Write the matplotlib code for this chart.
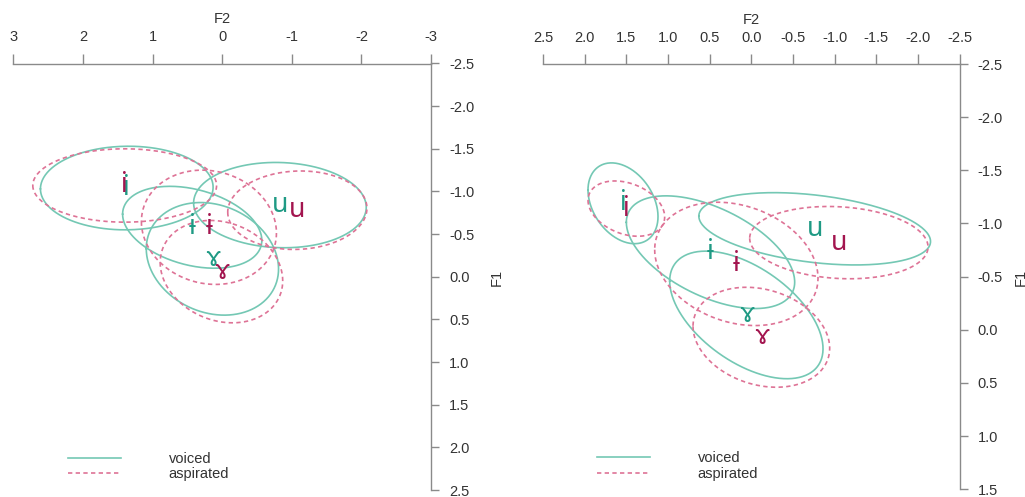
import numpy as np
import matplotlib
matplotlib.use("Agg")
import matplotlib.pyplot as plt
from matplotlib.lines import Line2D

plt.rcParams['axes.unicode_minus'] = False
plt.rcParams['font.family'] = ['Liberation Sans', 'DejaVu Sans']

# ---------------- data ----------------
vowels = ['i', 'ɨ', 'u', 'ɤ']
phonation = ['voiced', 'aspirated']

# Left panel: ellipse centres (F2, F1), half extents, correlation
left_voiced_f2 = [1.37, 0.43, -0.83, 0.14]
left_voiced_f1 = [-1.04, -0.58, -0.84, -0.21]
left_voiced_rx = [1.24, 1.00, 1.24, 0.95]
left_voiced_ry = [0.49, 0.48, 0.50, 0.66]
left_voiced_r = [0.02, -0.32, -0.05, -0.18]

left_asp_f2 = [1.40, 0.19, -1.08, 0.01]
left_asp_f1 = [-1.07, -0.58, -0.78, -0.06]
left_asp_rx = [1.32, 0.97, 1.00, 0.88]
left_asp_ry = [0.43, 0.67, 0.46, 0.60]
left_asp_r = [0.0, -0.10, 0.05, -0.18]

# Right panel
right_voiced_f2 = [1.54, 0.49, -0.76, 0.06]
right_voiced_f1 = [-1.19, -0.73, -0.95, -0.14]
right_voiced_rx = [0.42, 1.01, 1.39, 0.92]
right_voiced_ry = [0.38, 0.53, 0.34, 0.60]
right_voiced_r = [-0.33, -0.53, -0.35, -0.53]

right_asp_f2 = [1.50, 0.18, -1.05, -0.12]
right_asp_f1 = [-1.14, -0.62, -0.82, 0.07]
right_asp_rx = [0.46, 0.98, 1.07, 0.82]
right_asp_ry = [0.26, 0.58, 0.34, 0.47]
right_asp_r = [-0.30, -0.23, -0.12, -0.22]

left_xticks = [3, 2, 1, 0, -1, -2, -3]
left_yticks = [-2.5, -2.0, -1.5, -1.0, -0.5, 0.0, 0.5, 1.0, 1.5, 2.0, 2.5]
right_xticks = [2.5, 2.0, 1.5, 1.0, 0.5, 0.0, -0.5, -1.0, -1.5, -2.0, -2.5]
right_yticks = [-2.5, -2.0, -1.5, -1.0, -0.5, 0.0, 0.5, 1.0, 1.5]

# ---------------- style ----------------
W, H = 1025, 497
C_VOI_LINE = '#74c8b4'
C_ASP_LINE = '#de7396'
C_VOI_TXT = '#1f9a84'
C_ASP_TXT = '#a3154f'
AX_COL = '#8a8a8a'
TXT_COL = '#333333'

fig = plt.figure(figsize=(W / 100, H / 100), dpi=100)


def px_axes(x0, x1, ytop, ybot):
    return fig.add_axes([x0 / W, 1 - ybot / H, (x1 - x0) / W, (ybot - ytop) / H])


def ellipse(ax, cx, cy, rx, ry, r, **kw):
    t = np.linspace(0, 2 * np.pi, 300)
    x = cx + rx * np.cos(t)
    y = cy + ry * (r * np.cos(t) + np.sqrt(1 - r ** 2) * np.sin(t))
    ax.plot(x, y, clip_on=False, **kw)


def panel(ax, xticks, yticks, xfmt, vdat, adat, leg_anchor, f1x):
    ax.set_xlim(xticks[0], xticks[-1])
    ax.set_ylim(yticks[-1], yticks[0])
    for s in ['left', 'bottom']:
        ax.spines[s].set_visible(False)
    for s in ['top', 'right']:
        ax.spines[s].set_color(AX_COL)
        ax.spines[s].set_linewidth(1.0)
    ax.xaxis.set_ticks_position('top')
    ax.yaxis.set_ticks_position('right')
    ax.set_xticks(xticks)
    ax.set_xticklabels([xfmt.format(v) for v in xticks])
    ax.set_yticks(yticks)
    ax.set_yticklabels(['{:.1f}'.format(v) for v in yticks])
    ax.tick_params(axis='x', direction='out', length=7, width=1.0, color=AX_COL,
                   pad=7, labelsize=10.5, labelcolor=TXT_COL)
    ax.tick_params(axis='y', direction='out', length=6, width=1.0, color=AX_COL,
                   pad=7, labelsize=10.5, labelcolor=TXT_COL)
    ax.set_xlabel('F2', fontsize=10.5, color=TXT_COL, labelpad=5)
    ax.xaxis.set_label_position('top')
    ax.set_facecolor('none')

    for (f2, f1, rx, ry, rr), col, ls in [(vdat, C_VOI_LINE, '-'), (adat, C_ASP_LINE, '--')]:
        for k in range(len(vowels)):
            kw = dict(color=col, lw=1.2)
            if ls == '--':
                kw['dashes'] = (2.6, 2.0)
            ellipse(ax, f2[k], f1[k], rx[k], ry[k], rr[k], **kw)
    for (f2, f1, rx, ry, rr), col in [(vdat, C_VOI_TXT), (adat, C_ASP_TXT)]:
        for k, v in enumerate(vowels):
            ax.text(f2[k], f1[k], v, color=col, fontsize=19, ha='center', va='center',
                    family=['Noto Sans', 'DejaVu Sans'])

    handles = [Line2D([], [], color=C_VOI_LINE, lw=1.2),
               Line2D([], [], color=C_ASP_LINE, lw=1.2, dashes=(2.6, 2.0))]
    ax.legend(handles, phonation, loc='center left', bbox_to_anchor=leg_anchor,
              frameon=False, fontsize=10.5, handlelength=3.6, handletextpad=3.3,
              labelspacing=0.12, borderpad=0, borderaxespad=0, labelcolor=TXT_COL)
    fig.text(f1x / W, 1 - 277 / H, 'F1', rotation=90, ha='center', va='center',
             fontsize=10.5, color=TXT_COL)


axL = px_axes(13.3, 431, 63.5, 490)
panel(axL, left_xticks, left_yticks, '{:d}',
      (left_voiced_f2, left_voiced_f1, left_voiced_rx, left_voiced_ry, left_voiced_r),
      (left_asp_f2, left_asp_f1, left_asp_rx, left_asp_ry, left_asp_r),
      (0.131, 0.055), 497)

axR = px_axes(543, 959.7, 64, 489.3)
panel(axR, right_xticks, right_yticks, '{:.1f}',
      (right_voiced_f2, right_voiced_f1, right_voiced_rx, right_voiced_ry, right_voiced_r),
      (right_asp_f2, right_asp_f1, right_asp_rx, right_asp_ry, right_asp_r),
      (0.1296, 0.054), 1021)

fig.savefig('out.png', dpi=100)
